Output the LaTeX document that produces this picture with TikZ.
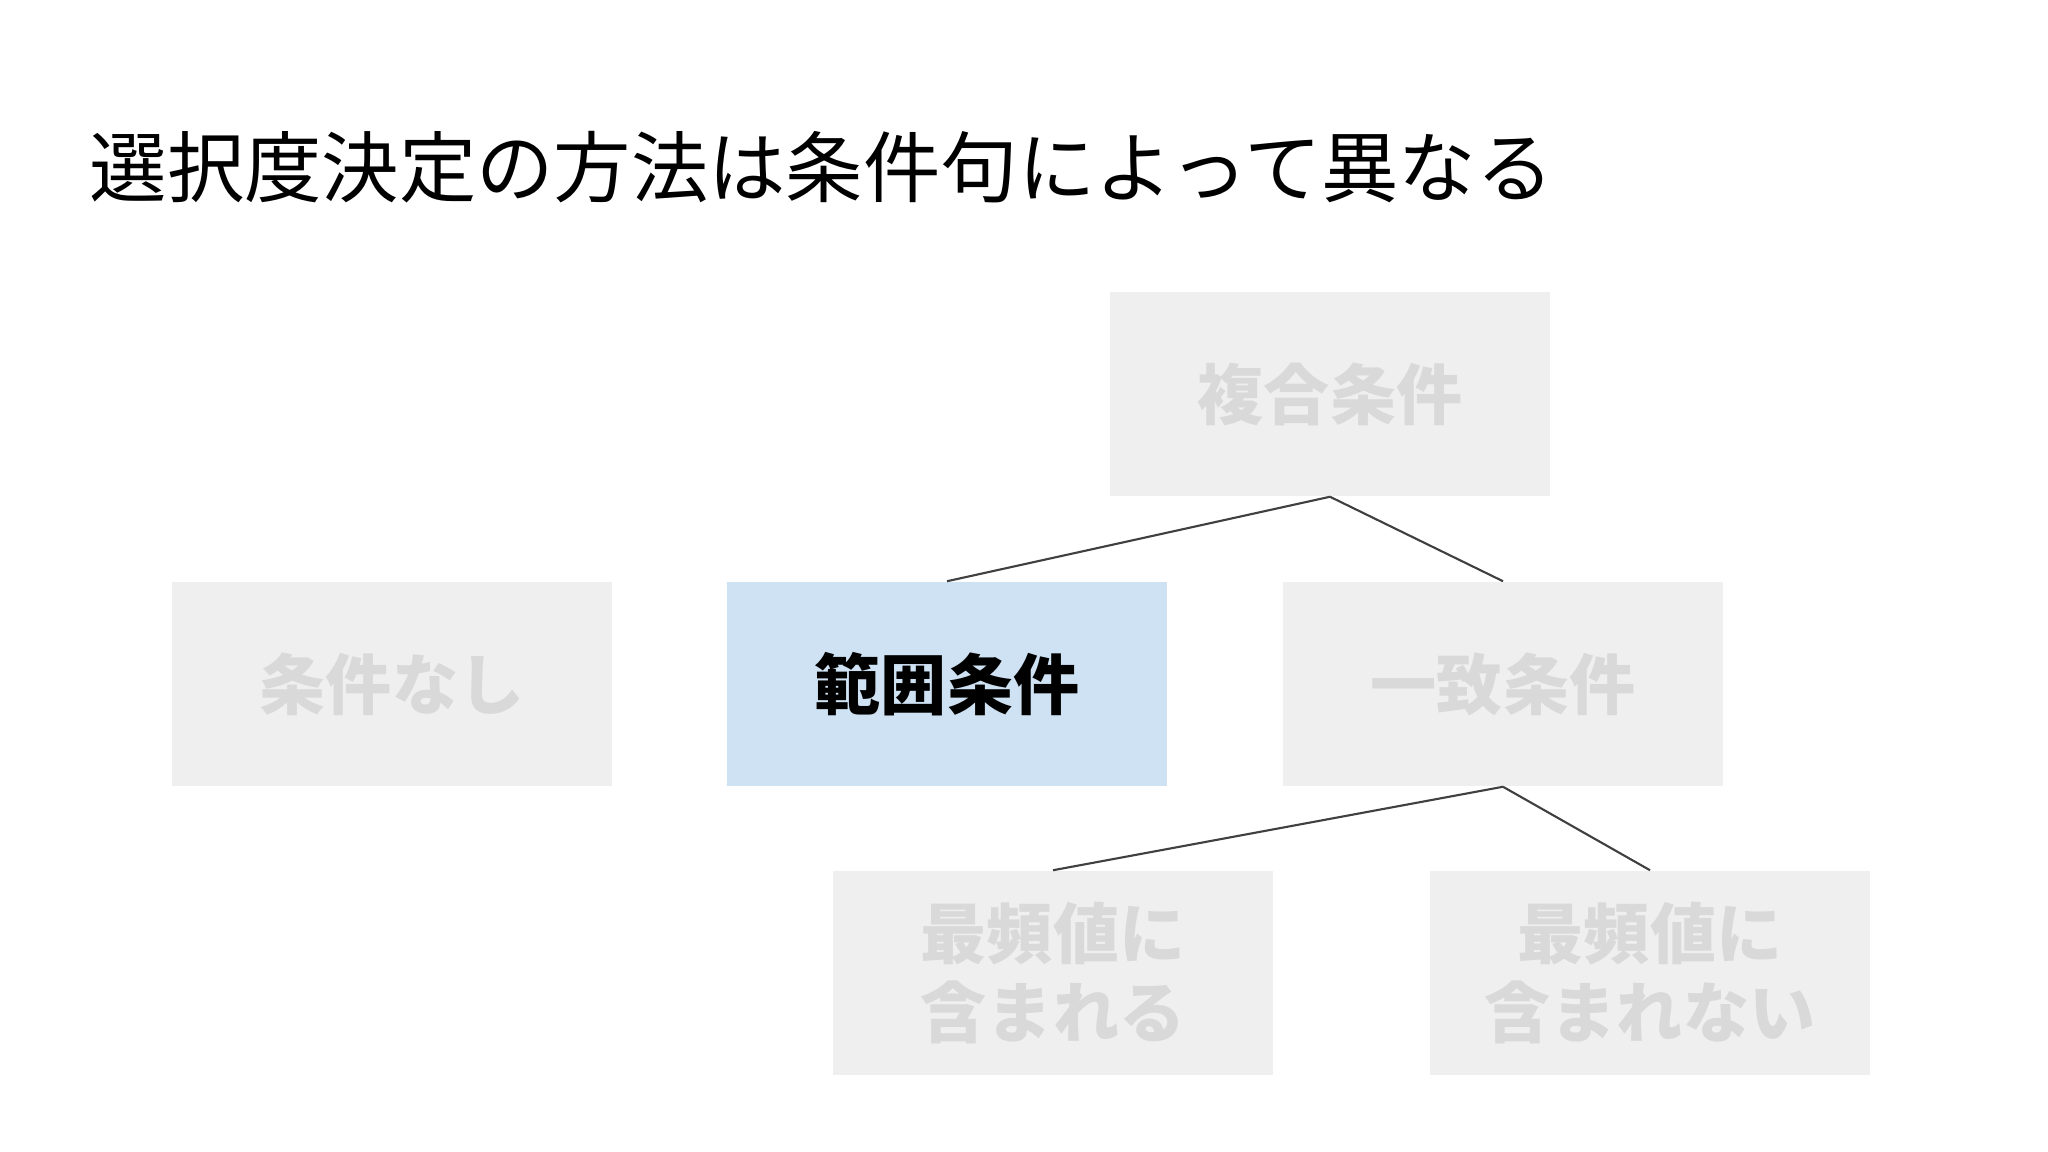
\documentclass[tikz,border=0pt]{standalone}
\usepackage{fontspec}
\setmainfont{Noto Sans CJK JP}
\definecolor{boxgray}{HTML}{EFEFEF}
\definecolor{textgray}{HTML}{D9D9D9}
\definecolor{boxblue}{HTML}{CFE2F3}
\definecolor{linegray}{HTML}{404040}

\begin{document}
\begin{tikzpicture}[x = 0.01cm, y = -0.01cm,
    cond/.style = {shape = rectangle, fill = boxgray, text = textgray, minimum width = 4.4cm, minimum height = 2.04cm, inner sep = 0pt, align = center, font = \fontsize{18.8pt}{22.2pt}\selectfont\bfseries},
    edge/.style = {draw = linegray, line width = 0.6pt}]
    \useasboundingbox[fill = white] (0,0) rectangle (2048,1152);
    \node[anchor = west, inner sep = 0pt, font = \fontsize{22pt}{26pt}\selectfont] (title) at (89,167) {選択度決定の方法は条件句によって異なる};
    \node[cond] (F) at (1330,394) {複合条件};
    \node[cond] (N) at (392,684) {条件なし};
    \node[cond, fill = boxblue, text = black] (R) at (947,684) {範囲条件};
    \node[cond] (E) at (1503,684) {一致条件};
    \node[cond] (M) at (1053,973) {最頻値に\\含まれる};
    \node[cond] (U) at (1650,973) {最頻値に\\含まれない};
    \draw[edge] (F.south) -- (R.north);
    \draw[edge] (F.south) -- (E.north);
    \draw[edge] (E.south) -- (M.north);
    \draw[edge] (E.south) -- (U.north);
\end{tikzpicture}
\end{document}
